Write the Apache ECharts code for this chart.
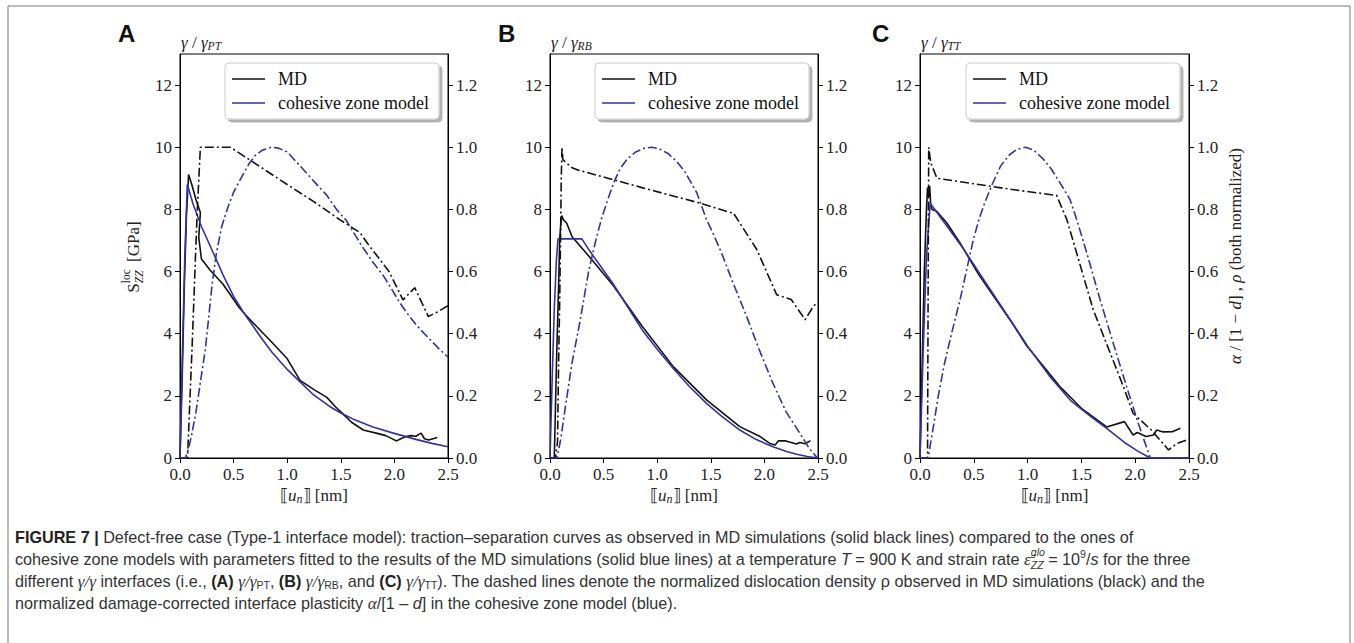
<!DOCTYPE html>
<html>
<head>
<meta charset="utf-8">
<script src="https://cdn.jsdelivr.net/npm/echarts/dist/echarts.min.js"></script>
<style>
html,body{margin:0;padding:0;background:#fff;}
#chart{width:1354px;height:643px;}
</style>
</head>
<body>
<div id="chart"></div>
<script>
// ---------- tick labels ----------
const xTicks = [0, 0.5, 1.0, 1.5, 2.0, 2.5];
const yTicksLeft = [0, 2, 4, 6, 8, 10, 12];
const yTicksRight = [0, 0.2, 0.4, 0.6, 0.8, 1.0, 1.2];
const seriesNames = ['MD', 'cohesive zone model'];
const panelLetters = ['A', 'B', 'C'];
const panelSubs = ['PT', 'RB', 'TT'];

// ---------- Panel A (γ/γPT) ----------
const A_md = [[0,0],[0.02,2.5],[0.04,5.5],[0.06,7.8],[0.08,9.12],[0.11,8.8],[0.15,8.3],[0.19,7.9],[0.175,7.1],[0.2,6.4],[0.28,6.05],[0.4,5.6],[0.5,5.1],[0.55,4.85],[0.6,4.65],[0.715,4.23],[0.85,3.75],[0.995,3.22],[1.12,2.5],[1.25,2.2],[1.37,1.95],[1.45,1.65],[1.52,1.42],[1.6,1.15],[1.71,0.9],[1.83,0.8],[1.92,0.72],[1.99,0.6],[2.02,0.55],[2.06,0.62],[2.1,0.68],[2.15,0.72],[2.2,0.7],[2.25,0.8],[2.28,0.62],[2.32,0.58],[2.36,0.62],[2.4,0.66]];
const A_cz = [[0,0],[0.02,3],[0.045,6.5],[0.068,8.8],[0.124,8.15],[0.2,7.45],[0.33,6.45],[0.4,5.9],[0.5,5.2],[0.59,4.7],[0.65,4.4],[0.75,3.9],[0.858,3.4],[1.0,2.85],[1.12,2.45],[1.24,2.05],[1.4,1.65],[1.5,1.45],[1.617,1.25],[1.8,1.0],[1.99,0.8],[2.2,0.6],[2.35,0.47],[2.5,0.36]];
const A_rho = [[0,0],[0.07,0],[0.112,0.35],[0.159,0.78],[0.19,1.0],[0.47,1.0],[1.0,0.88],[1.244,0.826],[1.49,0.767],[1.68,0.725],[1.75,0.69],[1.866,0.638],[1.95,0.6],[2.08,0.509],[2.19,0.548],[2.317,0.455],[2.4,0.47],[2.5,0.49]];
const A_alpha = [[0,0],[0.05,0],[0.08,0.03],[0.112,0.08],[0.15,0.15],[0.18,0.22],[0.21,0.29],[0.236,0.348],[0.27,0.46],[0.3,0.56],[0.34,0.66],[0.39,0.746],[0.45,0.81],[0.5,0.855],[0.547,0.886],[0.6,0.92],[0.65,0.95],[0.7,0.973],[0.765,0.99],[0.85,1.0],[0.92,0.997],[1.0,0.985],[1.12,0.94],[1.25,0.89],[1.37,0.845],[1.46,0.8],[1.55,0.765],[1.62,0.725],[1.7,0.68],[1.8,0.63],[1.9,0.585],[1.98,0.54],[2.05,0.5],[2.12,0.465],[2.2,0.43],[2.28,0.4],[2.35,0.375],[2.42,0.35],[2.5,0.325]];

// ---------- Panel B (γ/γRB) ----------
const B_md = [[0,0],[0.04,0],[0.06,3],[0.08,5.5],[0.09,7.0],[0.1,7.5],[0.11,7.8],[0.124,7.67],[0.155,7.56],[0.205,7.13],[0.373,6.45],[0.59,5.55],[0.858,4.25],[1.15,2.94],[1.46,1.87],[1.77,1.01],[1.96,0.69],[2.05,0.47],[2.1,0.42],[2.13,0.55],[2.2,0.55],[2.25,0.5],[2.3,0.45],[2.33,0.5],[2.38,0.46],[2.43,0.56]];
const B_cz = [[0,0],[0.02,2.5],[0.04,4.8],[0.06,6.4],[0.075,7.05],[0.297,7.05],[0.373,6.65],[0.59,5.6],[0.858,4.13],[1.0,3.5],[1.15,2.88],[1.3,2.3],[1.46,1.76],[1.6,1.35],[1.77,0.9],[1.92,0.6],[2.08,0.36],[2.2,0.22],[2.3,0.12],[2.4,0.05],[2.5,0]];
const B_rho = [[0,0],[0.05,0],[0.07,0.05],[0.08,0.3],[0.09,0.5],[0.1,0.75],[0.105,0.9],[0.112,1.0],[0.12,0.96],[0.205,0.934],[0.249,0.928],[0.858,0.87],[1.4,0.82],[1.68,0.79],[1.71,0.789],[1.93,0.67],[2.115,0.525],[2.25,0.51],[2.38,0.445],[2.46,0.49],[2.5,0.5]];
const B_alpha = [[0,0],[0.065,0],[0.1,0.06],[0.15,0.18],[0.205,0.305],[0.28,0.44],[0.36,0.6],[0.42,0.69],[0.48,0.77],[0.547,0.84],[0.6,0.89],[0.653,0.93],[0.72,0.962],[0.8,0.985],[0.88,0.997],[0.95,1.0],[1.02,0.995],[1.1,0.98],[1.18,0.955],[1.25,0.925],[1.31,0.89],[1.37,0.853],[1.46,0.767],[1.52,0.724],[1.6,0.66],[1.7,0.57],[1.835,0.455],[1.95,0.35],[2.08,0.24],[2.2,0.15],[2.33,0.08],[2.42,0.03],[2.49,0.002]];

// ---------- Panel C (γ/γTT) ----------
const C_md = [[0,0],[0.02,3],[0.04,6],[0.06,8],[0.07,8.7],[0.08,8.4],[0.09,8.75],[0.1,8.1],[0.112,8.0],[0.155,7.94],[0.248,7.57],[0.372,6.92],[0.546,5.9],[0.855,4.35],[0.99,3.62],[1.3,2.3],[1.5,1.6],[1.735,1.0],[1.9,1.17],[1.95,0.9],[1.98,0.74],[2.02,0.82],[2.1,0.69],[2.17,0.74],[2.2,0.9],[2.26,0.84],[2.35,0.85],[2.42,0.96]];
const C_cz = [[0,0],[0.03,3.5],[0.06,6.5],[0.095,8.2],[0.2,7.7],[0.4,6.75],[0.6,5.7],[0.8,4.65],[1.0,3.6],[1.2,2.65],[1.4,1.85],[1.6,1.3],[1.735,0.95],[1.9,0.5],[2.02,0.23],[2.14,0],[2.5,0]];
const C_rho = [[0,0],[0.07,0],[0.075,0.5],[0.081,1.0],[0.1,0.95],[0.158,0.9],[0.855,0.864],[1.27,0.845],[1.3,0.82],[1.365,0.767],[1.61,0.477],[1.89,0.23],[1.98,0.144],[2.05,0.122],[2.15,0.09],[2.23,0.058],[2.31,0.026],[2.39,0.047],[2.5,0.06]];
const C_alpha = [[0,0],[0.075,0],[0.124,0.1],[0.17,0.2],[0.225,0.3],[0.3,0.41],[0.372,0.509],[0.43,0.6],[0.496,0.703],[0.55,0.77],[0.6,0.82],[0.67,0.88],[0.75,0.94],[0.83,0.975],[0.9,0.993],[0.983,1.0],[1.06,0.99],[1.15,0.96],[1.22,0.93],[1.3,0.886],[1.394,0.832],[1.457,0.767],[1.55,0.66],[1.674,0.509],[1.8,0.365],[1.92,0.23],[2.03,0.11],[2.14,0],[2.5,0]];

// ---------- layout ----------
const serif = 'Liberation Serif';
const sans = 'Liberation Sans';
const BLACK = '#111111';
const BLUE = '#33339c';
const DASHDOT = [9, 3, 2, 3];

const panels = [
  {md: A_md, cz: A_cz, rho: A_rho, alpha: A_alpha, left: 180, width: 268, letterX: 118, legendX: 225},
  {md: B_md, cz: B_cz, rho: B_rho, alpha: B_alpha, left: 550, width: 268, letterX: 498, legendX: 595},
  {md: C_md, cz: C_cz, rho: C_rho, alpha: C_alpha, left: 920, width: 269, letterX: 872, legendX: 966}
];
const TOP = 54, HEIGHT = 404;

// text measuring helper to lay out mixed-style text runs
const mctx = document.createElement('canvas').getContext('2d');
function fstr(s) { return (s.style || 'normal') + ' ' + (s.weight || 'normal') + ' ' + s.size + 'px "' + s.family + '"'; }
function run(segs, x0, y, align) {
  let w = 0;
  const widths = segs.map(s => { mctx.font = fstr(s); const ww = mctx.measureText(s.t).width; if (!s.noAdvance) w += ww; return ww; });
  let x = align === 'center' ? x0 - w / 2 : x0;
  const els = [];
  segs.forEach((s, i) => {
    els.push({
      type: 'text', x: x, y: y + (s.dy || 0), silent: true,
      style: {text: s.t, fontSize: s.size, fontFamily: s.family, fontStyle: s.style || 'normal', fontWeight: s.weight || 'normal',
              fill: s.fill || '#222', verticalAlign: 'middle', align: 'left'}
    });
    if (!s.noAdvance) x += widths[i];
  });
  return els;
}

const graphics = [];
// outer frame
graphics.push({type: 'rect', shape: {x: 8, y: 6, width: 1342, height: 700}, style: {fill: 'none', stroke: '#777', lineWidth: 1}, silent: true});

panels.forEach((p, i) => {
  graphics.push({type: 'text', x: p.letterX, y: 33, silent: true,
    style: {text: panelLetters[i], fontFamily: sans, fontWeight: 'bold', fontSize: 24, fill: '#111', verticalAlign: 'middle'}});
  graphics.push(...run([
    {t: 'γ', size: 17, family: serif, style: 'italic'},
    {t: ' / ', size: 17, family: serif},
    {t: 'γ', size: 17, family: serif, style: 'italic'},
    {t: panelSubs[i], size: 11.5, family: serif, style: 'italic', dy: 4}
  ], p.left + 1, 42));
  graphics.push(...run([
    {t: '⟦', size: 17, family: serif},
    {t: 'u', size: 17, family: serif, style: 'italic'},
    {t: 'n', size: 12, family: serif, style: 'italic', dy: 4},
    {t: '⟧ [nm]', size: 17, family: serif}
  ], p.left + p.width / 2, 495, 'center'));
});

// left axis name (panel A), rotated
graphics.push({type: 'group', x: 133, y: 257, rotation: Math.PI / 2, children: run([
  {t: 'S', size: 17, family: serif},
  {t: 'loc', size: 11.5, family: serif, dy: -7, noAdvance: true},
  {t: 'ZZ', size: 11.5, family: serif, style: 'italic', dy: 6},
  {t: '  [GPa]', size: 17, family: serif}
], 0, 0, 'center')});

// right axis name (panel C), rotated
graphics.push({type: 'group', x: 1235, y: 256, rotation: Math.PI / 2, children: run([
  {t: 'α', size: 17, family: serif, style: 'italic'},
  {t: ' / [1 − ', size: 17, family: serif},
  {t: 'd', size: 17, family: serif, style: 'italic'},
  {t: '] , ', size: 17, family: serif},
  {t: 'ρ', size: 17, family: serif, style: 'italic'},
  {t: ' (both normalized)', size: 17, family: serif}
], 0, 0, 'center')});

// caption
const CAP = 16.2, CAPS = 10.5;
const n = t => ({t, size: CAP, family: sans, fill: '#333'});
const b = t => ({t, size: CAP, family: sans, weight: 'bold', fill: '#222'});
const it = t => ({t, size: CAP, family: sans, style: 'italic', fill: '#333'});
const si = t => ({t, size: CAP + 1, family: serif, style: 'italic', fill: '#333'});
const sub = t => ({t, size: CAPS, family: sans, fill: '#333', dy: 4});
const captionLines = [
  [b('FIGURE 7 | '), n('Defect-free case (Type-1 interface model): traction–separation curves as observed in MD simulations (solid black lines) compared to the ones of')],
  [n('cohesive zone models with parameters fitted to the results of the MD simulations (solid blue lines) at a temperature '), it('T'), n(' = 900 K and strain rate '), si('ε̇'),
   {t: 'glo', size: CAPS, family: sans, style: 'italic', fill: '#333', dy: -7, noAdvance: true}, {t: 'ZZ', size: CAPS, family: sans, style: 'italic', fill: '#333', dy: 6},
   n(' = 10'), {t: '9', size: CAPS, family: sans, fill: '#333', dy: -5}, n('/'), it('s'), n(' for the three')],
  [n('different '), si('γ/γ'), n(' interfaces (i.e., '), b('(A)'), n(' '), si('γ/γ'), sub('PT'), n(', '), b('(B)'), n(' '), si('γ/γ'), sub('RB'), n(', and '), b('(C)'), n(' '), si('γ/γ'), sub('TT'),
   n('). The dashed lines denote the normalized dislocation density ρ observed in MD simulations (black) and the')],
  [n('normalized damage-corrected interface plasticity '), si('α'), n('/[1 – '), it('d'), n('] in the cohesive zone model (blue).')]
];
const capY = [537, 559, 581, 603];
captionLines.forEach((line, k) => graphics.push(...run(line, 15, capY[k])));

// ---------- ECharts option ----------
const grids = [], xAxes = [], yAxes = [], series = [], legends = [];
const axisCommon = {
  axisLine: {show: true, lineStyle: {color: '#000', width: 1}},
  axisTick: {show: true, length: 5, lineStyle: {color: '#000', width: 1}},
  splitLine: {show: false}
};
const tickRich = {t: {fontFamily: serif, fontSize: 17, color: '#222'}};
const labelCommon = {fontFamily: serif, fontSize: 17, color: '#222', margin: 8, rich: tickRich};

panels.forEach((p, i) => {
  grids.push({left: p.left, top: TOP, width: p.width, height: HEIGHT, show: true, borderColor: '#000', borderWidth: 1, backgroundColor: 'transparent'});
  xAxes.push(Object.assign({}, axisCommon, {
    gridIndex: i, type: 'value', min: 0, max: 2.5,
    axisTick: Object.assign({}, axisCommon.axisTick, {customValues: xTicks}),
    axisLabel: Object.assign({}, labelCommon, {customValues: xTicks, formatter: v => '{t|' + Number(v).toFixed(1) + '}'})
  }));
  yAxes.push(Object.assign({}, axisCommon, {
    gridIndex: i, type: 'value', position: 'left', min: 0, max: 13,
    axisTick: Object.assign({}, axisCommon.axisTick, {customValues: yTicksLeft}),
    axisLabel: Object.assign({}, labelCommon, {customValues: yTicksLeft, formatter: v => '{t|' + String(Math.round(v)) + '}'})
  }));
  yAxes.push(Object.assign({}, axisCommon, {
    gridIndex: i, type: 'value', position: 'right', min: 0, max: 1.3,
    axisTick: Object.assign({}, axisCommon.axisTick, {customValues: yTicksRight}),
    axisLabel: Object.assign({}, labelCommon, {customValues: yTicksRight, formatter: v => '{t|' + Number(v).toFixed(1) + '}'})
  }));
  const base = {type: 'line', xAxisIndex: i, showSymbol: false, symbol: 'none', animation: false, silent: true};
  series.push(Object.assign({}, base, {name: seriesNames[0], yAxisIndex: 2 * i, data: p.md, z: 3,
    lineStyle: {color: BLACK, width: 1.6}, itemStyle: {color: BLACK}}));
  series.push(Object.assign({}, base, {name: seriesNames[1], yAxisIndex: 2 * i, data: p.cz, z: 3,
    lineStyle: {color: BLUE, width: 1.6}, itemStyle: {color: BLUE}}));
  series.push(Object.assign({}, base, {name: 'ρ (MD)', yAxisIndex: 2 * i + 1, data: p.rho, z: 4,
    lineStyle: {color: BLACK, width: 1.6, type: DASHDOT}, itemStyle: {color: BLACK}}));
  series.push(Object.assign({}, base, {name: 'α/[1−d] (CZM)', yAxisIndex: 2 * i + 1, data: p.alpha, z: 4,
    lineStyle: {color: BLUE, width: 1.6, type: DASHDOT}, itemStyle: {color: BLUE}}));
  legends.push({
    left: p.legendX, top: 63, orient: 'vertical', data: seriesNames, selectedMode: false,
    icon: 'rect', itemWidth: 33, itemHeight: 1.6, itemGap: 4, padding: [6, 10, 6, 7],
    backgroundColor: '#fff', borderColor: '#cccccc', borderWidth: 1, borderRadius: 4,
    shadowColor: 'rgba(0,0,0,0.3)', shadowBlur: 0, shadowOffsetX: 3, shadowOffsetY: 3,
    textStyle: {fontFamily: serif, fontSize: 18, color: '#111', lineHeight: 20, padding: [0, 0, 0, 8]}
  });
});

const chart = echarts.init(document.getElementById('chart'), null, {renderer: 'svg'});
chart.setOption({
  animation: false,
  backgroundColor: '#fff',
  textStyle: {fontFamily: serif},
  grid: grids, xAxis: xAxes, yAxis: yAxes, series: series, legend: legends,
  graphic: {elements: graphics}
});
</script>
</body>
</html>
